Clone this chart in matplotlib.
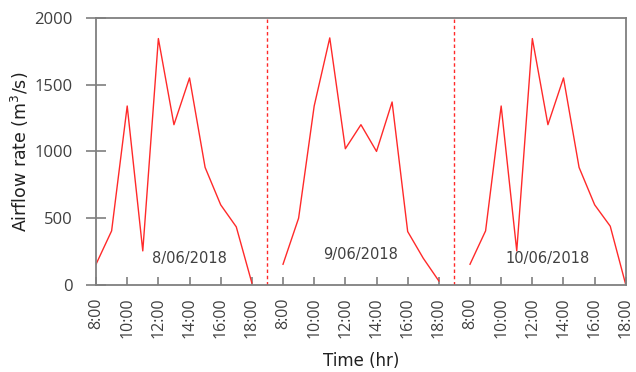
import matplotlib
matplotlib.use('Agg')
import matplotlib.pyplot as plt

# ── Data ──────────────────────────────────────────────────────────────────────

hours = [8, 9, 10, 11, 12, 13, 14, 15, 16, 17, 18]
days = ["8/06/2018", "9/06/2018", "10/06/2018"]

flow_day1 = [155, 405, 1340, 255, 1845, 1200, 1550, 880, 600, 435, 15]
flow_day2 = [155, 500, 1340, 1850, 1020, 1200, 1000, 1370, 400, 200, 30]
flow_day3 = [155, 405, 1340, 255, 1845, 1200, 1550, 880, 600, 440, 0]

tick_hours = [8, 10, 12, 14, 16, 18]

# ── Plot ──────────────────────────────────────────────────────────────────────

GREY = '#7f7f7f'
TXT = '#404040'
TICKFONT = ['Open Sans', 'DejaVu Sans']

fig = plt.figure(figsize=(6.36, 3.72), dpi=100)
ax = fig.add_axes([0.151, 0.234, 0.833, 0.718])

gap = 12  # each day takes 10 h + 2 h gap on the axis
xticks, xlabels = [], []
for i, flow in enumerate([flow_day1, flow_day2, flow_day3]):
    x = [i * gap + h - 8 for h in hours]
    ax.plot(x, flow, color='#ff2a2a', lw=1.0)
    xticks += [i * gap + h - 8 for h in tick_hours]
    xlabels += [f"{h}:00" for h in tick_hours]

for i in range(1, len(days)):
    ax.axvline(i * gap - 1, color='#ff2a2a', lw=1.0, ls=(0, (2.5, 2)))

ax.text(6.0, 200, days[0], fontsize=10.5, color=TXT, ha='center', va='center')
ax.text(17.0, 225, days[1], fontsize=10.5, color=TXT, ha='center', va='center')
ax.text(29.0, 200, days[2], fontsize=10.5, color=TXT, ha='center', va='center')

ax.set_xlim(0, 34)
ax.set_ylim(0, 2000)
ax.set_yticks([0, 500, 1000, 1500, 2000])
ax.set_xticks(xticks)
ax.set_xticklabels(xlabels, rotation=90, family=TICKFONT, fontsize=11.5)
ax.set_yticklabels(["0", "500", "1000", "1500", "2000"], family=TICKFONT, fontsize=12)

ax.tick_params(axis='x', direction='in', length=6, width=1.2, color=GREY,
               labelcolor=TXT, pad=9)
ax.tick_params(axis='y', direction='inout', length=14, width=1.2, color=GREY,
               labelcolor=TXT, pad=10)

for s in ax.spines.values():
    s.set_color(GREY)
    s.set_linewidth(1.3)

ax.set_xlabel("Time (hr)", fontsize=12, color='#202020', labelpad=10)
ax.set_ylabel("Airflow rate (m$^3$/s)", fontsize=12.5, color='#202020', labelpad=2)

plt.savefig("out.png", dpi=100)
plt.close()
